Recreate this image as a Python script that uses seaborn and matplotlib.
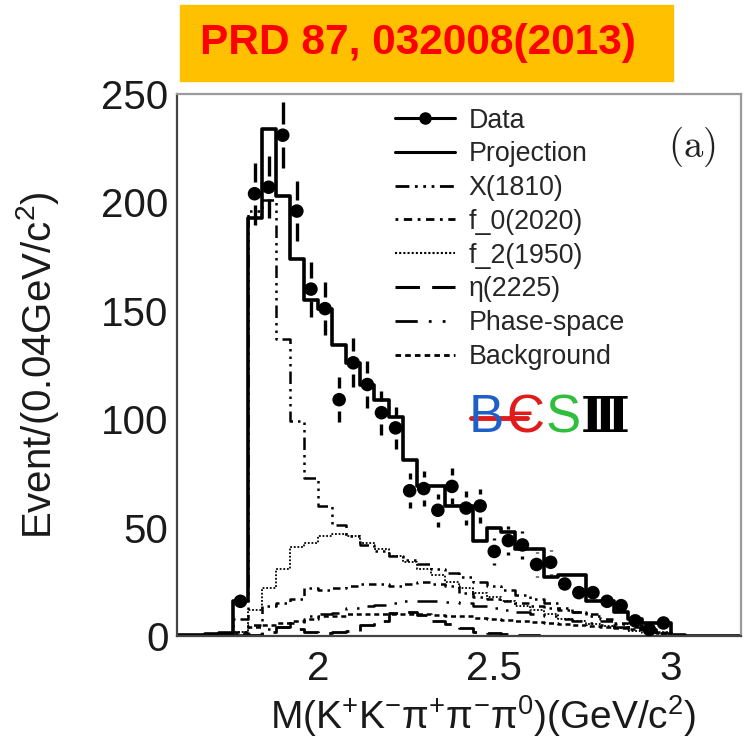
import numpy as np
import pandas as pd
import matplotlib
matplotlib.use("Agg")
import matplotlib.pyplot as plt
import seaborn as sns
from matplotlib.lines import Line2D
from matplotlib.patches import Rectangle
from matplotlib.ticker import MultipleLocator

# ---- binning: 0.04 GeV/c^2 bins over 1.60-3.20 ----
bin_lo, bin_hi, bin_w = 1.60, 3.20, 0.04
edges = np.round(np.arange(bin_lo, bin_hi + bin_w / 2, bin_w), 2)
centers = np.round(0.5 * (edges[:-1] + edges[1:]), 3)

# measured events (bins 1.78 ... 2.98)
data_x = centers[4:35]
data_y = np.array([16, 204, 207, 231, 196, 160, 151, 109, 126, 116, 103, 96,
                   67, 68, 58, 69, 59, 60, 39, 44, 42, 33, 34, 24, 20, 20,
                   16, 14, 7, 3, 6], dtype=float)

# fit projection and its components (one value per bin, 40 bins)
projection = [0.3, 0.5, 1, 1.5, 16, 193, 234, 203, 174, 155, 151, 134, 126, 116,
              109, 101, 81, 69, 69, 60, 60, 44, 50, 48, 40, 40, 27, 28, 28, 16,
              16, 11, 8, 6, 6, 0.5, 0, 0, 0, 0]
x1810 = [0, 0, 0.5, 1, 8, 196, 201, 137, 99, 73, 60, 51, 46, 42, 39, 37, 35, 33,
         31, 29, 27, 25, 23, 21, 19, 17, 15, 13, 11, 9, 7, 5.5, 4, 3, 2, 0.5,
         0, 0, 0, 0]
f0_2020 = [0, 0, 0, 0, 1, 5, 14, 15, 17, 22, 21, 22, 23, 24, 24, 23, 24, 25, 24,
           23, 20, 18, 17, 16, 15, 14, 13, 12, 11, 10, 8, 6, 5, 3, 2, 0.5,
           0, 0, 0, 0]
f2_1950 = [0, 0, 0, 0.5, 2, 12, 22, 31, 41, 43, 46, 47, 46, 43, 40, 37, 34, 31,
           28, 25, 22, 20, 18, 16, 14, 12, 10, 8, 7, 5.5, 4.5, 3.5, 2.5, 1.5, 1,
           0, 0, 0, 0, 0]
eta2225 = [0, 0, 0, 0, 0, 0.5, 2, 4, 3, 2, 1.5, 1.8, 2.5, 5, 7, 10.5, 11, 9.5,
           7, 5.5, 3.5, 2, 1.5, 1, 0.5, 0.3, 0, 0, 0, 0, 0, 0, 0, 0, 0, 0,
           0, 0, 0, 0]
phase_space = [0, 0, 0, 0, 0.5, 1, 3, 4, 6, 9, 10, 10.5, 13, 14, 14.5, 15, 16,
               16, 16, 15.5, 15, 14, 13, 12, 11, 10, 9, 8, 7, 6, 5, 4, 3, 2, 1.5,
               0.5, 0, 0, 0, 0]
background = [0, 0.5, 1, 1, 2, 4, 5, 6, 7, 8, 9, 9, 10, 10, 10, 10, 10, 10, 9.5,
              9, 9, 8.5, 8, 7.5, 7, 6.5, 6, 5.5, 5, 4.5, 4, 3.5, 3, 2, 1.5, 0.5,
              0, 0, 0, 0]

labels = ["Data", "Projection", "X(1810)", "f_0(2020)", "f_2(1950)",
          "\u03b7(2225)", "Phase-space", "Background"]

sns.set_theme(style="white")
plt.rcParams["font.family"] = ["Liberation Sans", "DejaVu Sans"]
plt.rcParams["mathtext.fontset"] = "custom"
plt.rcParams["mathtext.rm"] = "Liberation Sans"
plt.rcParams["mathtext.it"] = "Liberation Sans:italic"
plt.rcParams["mathtext.bf"] = "Liberation Sans:bold"

fig = plt.figure(figsize=(7.44, 7.45), dpi=100)
ax = fig.add_axes([177 / 744, 1 - 636 / 745, 564 / 744, 542 / 745])


def step_outline(values, ls, lw):
    """Histogram outline drawn bin edge to bin edge."""
    vals = list(values)
    frame = pd.DataFrame({"mass": edges, "events": vals + [vals[-1]]})
    sns.lineplot(data=frame, x="mass", y="events", ax=ax, color="black",
                 linestyle=ls, linewidth=lw, drawstyle="steps-post",
                 estimator=None, sort=False)


styles = [
    (x1810, (0, (5, 2, 1, 2, 1, 2, 1, 2)), 1.8),
    (f0_2020, (0, (1, 2, 3, 2)), 1.8),
    (f2_1950, (0, (1, 1)), 1.3),
    (eta2225, (0, (8, 4)), 2.0),
    (phase_space, (0, (8, 4, 1, 4, 1, 4)), 1.8),
    (background, (0, (2, 1.5)), 1.8),
]
for vals, ls, lw in styles:
    step_outline(vals, ls, lw)
step_outline(projection, "-", 2.6)

ax.set_xlim(bin_lo, bin_hi)
ax.set_ylim(0, 250)

# error bars with a gap around each marker
err = np.sqrt(data_y)
px_per_unit = ax.bbox.height / 250.0
gap = 11.5 / px_per_unit
show = err > gap
ax.vlines(data_x[show], (data_y + gap)[show], (data_y + err)[show], color="black", lw=2.4)
ax.vlines(data_x[show], (data_y - err)[show], (data_y - gap)[show], color="black", lw=2.4)
sns.scatterplot(x=data_x, y=data_y, s=95, color="black", edgecolor="none", ax=ax, zorder=5)

ax.set_xticks([2, 2.5, 3])
ax.set_xticklabels(["2", "2.5", "3"])
ax.xaxis.set_minor_locator(MultipleLocator(0.1))
ax.yaxis.set_major_locator(MultipleLocator(50))
ax.yaxis.set_minor_locator(MultipleLocator(10))
ax.tick_params(which="both", direction="in", top=False, right=False, color="#333333",
               labelcolor="#1a1a1a", labelsize=29)
ax.tick_params(which="major", length=13, width=1.3)
ax.tick_params(which="minor", length=6.5, width=1.1)
ax.tick_params(axis="y", pad=6)
ax.tick_params(axis="x", pad=10)
for side, sp in ax.spines.items():
    sp.set_visible(True)
    sp.set_linewidth(1.6)
    sp.set_color("#444444" if side in ("left", "bottom") else "#9a9a9a")

ax.set_ylabel("Event/(0.04GeV/c$^{2}$)", fontsize=29, color="#1a1a1a")
ax.yaxis.set_label_coords(-0.205, 0.5)
ax.set_xlabel("M(K$^{+}$K$^{-}$\u03c0$^{+}$\u03c0$^{-}$\u03c0$^{0}$)(GeV/c$^{2}$)",
              fontsize=28, color="#1a1a1a")
ax.xaxis.set_label_coords(0.543, -0.105)

handles = [
    Line2D([], [], color="black", marker="o", ms=8, lw=2.2),
    Line2D([], [], color="black", lw=2.2),
] + [Line2D([], [], color="black", ls=ls, lw=lw + 0.2) for _, ls, lw in styles]
ax.legend(handles, labels, loc="upper left", bbox_to_anchor=(0.386, 0.975),
          frameon=False, fontsize=19.3, handlelength=2.25, handletextpad=0.5,
          labelspacing=0.29, borderpad=0, borderaxespad=0)

ax.text(0.913, 0.902, r"$\mathrm{(a)}$", transform=ax.transAxes, fontsize=28,
        ha="center", va="center", math_fontfamily="cm", color="#222222")

# experiment logo
logo_y = 0.402
logo_font = ["Liberation Sans"]
ax.text(0.549, logo_y, "B", transform=ax.transAxes, ha="center", va="center",
        fontsize=38, color="#1f5fc8", family=logo_font)
ax.text(0.618, logo_y, "\u0404", transform=ax.transAxes, ha="center", va="center",
        fontsize=38, color="#e01b1b", family=logo_font)
ax.text(0.684, logo_y, "S", transform=ax.transAxes, ha="center", va="center",
        fontsize=38, color="#2fbf3a", family=logo_font)
ax.text(0.760, logo_y, "\u2162", transform=ax.transAxes, ha="center", va="center",
        fontsize=35, fontweight="bold", color="black", family=["DejaVu Serif"])
ax.plot([0.522, 0.62], [logo_y, logo_y], transform=ax.transAxes, color="#e01b1b", lw=3.5)

# reference banner
fig.add_artist(Rectangle((180 / 744, 1 - 81 / 745), 493 / 744, 76 / 745,
                         transform=fig.transFigure, color="#FFC000", zorder=0))
fig.text(0.562, 0.942, "PRD 87, 032008(2013)", color="#FF0000", fontsize=30.5,
         fontweight="bold", ha="center", va="center", family=logo_font)

fig.savefig("out.png", dpi=100)
